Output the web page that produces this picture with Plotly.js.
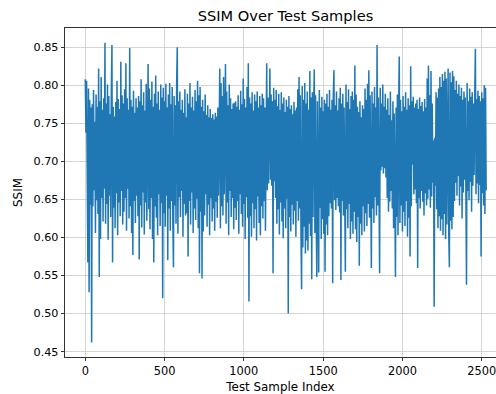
<!DOCTYPE html>
<html>
<head>
<meta charset="utf-8">
<script src="https://cdn.plot.ly/plotly-3.0.1.min.js"></script>
<style>
html,body{margin:0;padding:0;background:#fff;}
#chart{width:496px;height:394px;}
</style>
</head>
<body>
<div id="chart"></div>
<script>
// SSIM value per test sample (one value every SAMPLE_STEP samples)
const SAMPLE_STEP = 4;
const ssim = [
0.808,0.738,0.806,0.652,0.567,0.796,0.528,0.781,0.643,0.771,0.462,0.775,0.641,0.794,0.662,0.752,0.606,0.788,0.649,0.772,
0.631,0.822,0.548,0.779,0.598,0.811,0.652,0.768,0.621,0.783,0.664,0.856,0.618,0.776,0.644,0.801,0.597,0.786,0.655,0.762,
0.627,0.791,0.853,0.567,0.772,0.639,0.759,0.612,0.778,0.658,0.806,0.603,0.782,0.646,0.769,0.628,0.831,0.661,0.787,0.617,
0.776,0.634,0.795,0.652,0.829,0.609,0.783,0.664,0.768,0.625,0.849,0.641,0.781,0.606,0.772,0.577,0.793,0.648,0.764,0.619,
0.783,0.655,0.771,0.628,0.786,0.571,0.779,0.642,0.808,0.613,0.774,0.659,0.791,0.604,0.767,0.646,0.802,0.622,0.778,0.828,
0.637,0.796,0.611,0.781,0.652,0.805,0.598,0.772,0.567,0.789,0.641,0.813,0.626,0.776,0.603,0.792,0.657,0.768,0.615,0.801,
0.645,0.784,0.520,0.797,0.632,0.779,0.614,0.802,0.655,0.771,0.570,0.788,0.638,0.803,0.609,0.775,0.648,0.798,0.621,0.561,
0.786,0.642,0.774,0.618,0.801,0.850,0.605,0.779,0.653,0.792,0.627,0.768,0.661,0.781,0.601,0.764,0.644,0.795,0.629,0.758,
0.632,0.789,0.575,0.776,0.648,0.803,0.617,0.771,0.659,0.785,0.606,0.767,0.638,0.794,0.623,0.779,0.651,0.806,0.612,0.787,
0.553,0.798,0.634,0.772,0.546,0.781,0.608,0.766,0.629,0.788,0.657,0.761,0.614,0.774,0.643,0.758,0.603,0.769,0.652,0.757,
0.621,0.762,0.638,0.755,0.609,0.764,0.647,0.759,0.626,0.771,0.655,0.768,0.822,0.612,0.803,0.641,0.786,0.629,0.811,0.657,
0.779,0.828,0.618,0.792,0.646,0.774,0.603,0.801,0.661,0.783,0.627,0.769,0.652,0.776,0.611,0.777,0.639,0.779,0.623,0.772,
0.648,0.787,0.605,0.768,0.657,0.793,0.631,0.775,0.614,0.809,0.644,0.782,0.598,0.771,0.653,0.798,0.626,0.829,0.516,0.784,
0.628,0.776,0.601,0.791,0.645,0.767,0.612,0.788,0.637,0.779,0.596,0.792,0.654,0.771,0.619,0.786,0.603,0.774,0.641,0.789,
0.625,0.783,0.648,0.771,0.609,0.795,0.829,0.662,0.784,0.671,0.776,0.822,0.676,0.788,0.668,0.779,0.553,0.797,0.674,0.781,
0.652,0.794,0.618,0.773,0.637,0.789,0.604,0.768,0.646,0.791,0.621,0.776,0.599,0.784,0.638,0.765,0.612,0.781,0.651,0.772,
0.500,0.786,0.627,0.769,0.608,0.774,0.643,0.762,0.617,0.778,0.635,0.767,0.601,0.771,0.648,0.795,0.622,0.811,0.638,0.787,
0.609,0.532,0.799,0.587,0.781,0.614,0.803,0.579,0.776,0.596,0.792,0.583,0.768,0.618,0.819,0.602,0.784,0.545,0.791,0.627,
0.773,0.821,0.606,0.787,0.631,0.548,0.779,0.612,0.554,0.794,0.639,0.771,0.598,0.785,0.624,0.766,0.605,0.781,0.555,0.776,
0.617,0.789,0.603,0.772,0.628,0.794,0.645,0.768,0.638,0.781,0.540,0.786,0.820,0.649,0.774,0.636,0.792,0.652,0.767,0.641,
0.783,0.633,0.797,0.544,0.776,0.648,0.789,0.629,0.771,0.653,0.555,0.801,0.637,0.778,0.612,0.795,0.644,0.769,0.598,0.786,
0.621,0.792,0.605,0.781,0.634,0.826,0.611,0.788,0.594,0.772,0.627,0.765,0.563,0.779,0.618,0.758,0.603,0.774,0.641,0.769,
0.608,0.796,0.632,0.781,0.615,0.802,0.644,0.820,0.626,0.787,0.607,0.560,0.792,0.638,0.776,0.619,0.798,0.653,0.771,0.629,
0.853,0.642,0.784,0.617,0.553,0.797,0.688,0.776,0.693,0.801,0.684,0.772,0.691,0.789,0.679,0.768,0.652,0.783,0.634,0.761,
0.647,0.792,0.661,0.754,0.638,0.779,0.612,0.763,0.655,0.548,0.771,0.627,0.788,0.603,0.774,0.838,0.619,0.781,0.642,0.766,
0.608,0.786,0.634,0.772,0.615,0.791,0.648,0.768,0.601,0.783,0.626,0.774,0.575,0.825,0.641,0.779,0.696,0.785,0.657,0.771,
0.663,0.776,0.645,0.781,0.560,0.769,0.652,0.784,0.638,0.773,0.661,0.778,0.647,0.766,0.629,0.782,0.658,0.771,0.642,0.809,
0.651,0.826,0.663,0.787,0.639,0.819,0.654,0.776,0.672,0.728,0.509,0.731,0.668,0.791,0.637,0.784,0.612,0.796,0.628,0.811,
0.609,0.798,0.624,0.815,0.603,0.806,0.631,0.818,0.598,0.809,0.617,0.813,0.822,0.606,0.561,0.817,0.622,0.804,0.611,0.819,
0.627,0.812,0.648,0.794,0.672,0.806,0.655,0.789,0.681,0.801,0.642,0.786,0.667,0.797,0.625,0.781,0.659,0.792,0.676,0.784,
0.638,0.538,0.803,0.661,0.779,0.649,0.796,0.673,0.785,0.634,0.791,0.668,0.776,0.682,0.788,0.848,0.657,0.782,0.671,0.793,
0.645,0.786,0.669,0.779,0.575,0.791,0.658,0.783,0.642,0.800,0.631,0.797,0.662
];
const sampleIndex = ssim.map((_, i) => i * SAMPLE_STEP);

const xTicks = [0, 500, 1000, 1500, 2000, 2500];
const yTicks = [0.45, 0.50, 0.55, 0.60, 0.65, 0.70, 0.75, 0.80, 0.85];

const titleText = "SSIM Over Test Samples";
const xTitle = "Test Sample Index";
const yTitle = "SSIM";

const FONT = "DejaVu Sans, Verdana, sans-serif";

const trace = {
  x: sampleIndex,
  y: ssim,
  type: "scatter",
  mode: "lines",
  line: {color: "#1f77b4", width: 1.5},
  hoverinfo: "none"
};

const layout = {
  width: 496,
  height: 394,
  margin: {l: 65, r: 0, t: 28, b: 37},
  paper_bgcolor: "#ffffff",
  plot_bgcolor: "#ffffff",
  showlegend: false,
  font: {family: FONT, size: 11.4, color: "#000"},
  title: {
    text: titleText,
    font: {family: FONT, size: 14.6, color: "#000"},
    xref: "paper", x: 0.5116, xanchor: "center",
    yref: "container", y: 0.960, yanchor: "middle"
  },
  xaxis: {
    range: [-128, 2590],
    tickvals: xTicks,
    ticktext: xTicks.map(String),
    ticklabeloverflow: "allow",
    ticks: "outside", ticklen: 3.5, tickwidth: 0.8, tickcolor: "#000",
    showgrid: true, gridcolor: "#cbcbcb", gridwidth: 0.8,
    showline: true, linecolor: "#000", linewidth: 0.8, mirror: true,
    zeroline: false,
    tickfont: {family: FONT, size: 11.4, color: "#000"},
    title: {text: xTitle, font: {family: FONT, size: 11.9, color: "#000"}, standoff: 6}
  },
  yaxis: {
    range: [0.4429, 0.8754],
    tickvals: yTicks,
    ticktext: yTicks.map(v => v.toFixed(2)),
    ticks: "outside", ticklen: 3.5, tickwidth: 0.8, tickcolor: "#000",
    showgrid: true, gridcolor: "#cbcbcb", gridwidth: 0.8,
    showline: true, linecolor: "#000", linewidth: 0.8, mirror: false,
    zeroline: false,
    tickfont: {family: FONT, size: 11.2, color: "#000"},
    title: {text: yTitle, font: {family: FONT, size: 11.9, color: "#000"}, standoff: 8}
  }
};

Plotly.newPlot("chart", [trace], layout, {staticPlot: true, displayModeBar: false});
</script>
</body>
</html>
